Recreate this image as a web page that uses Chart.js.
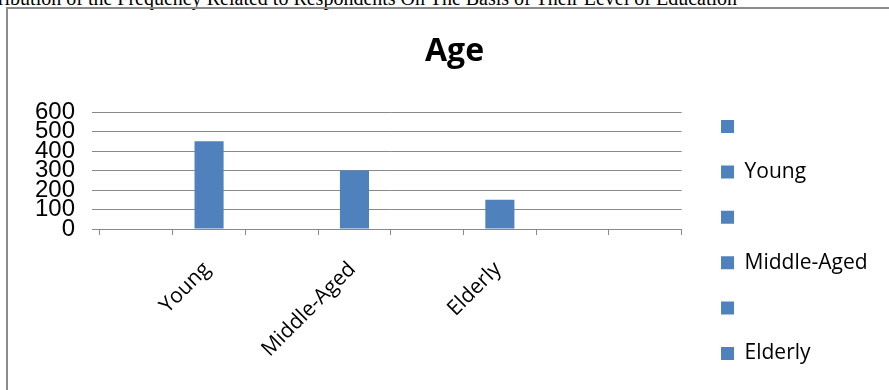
<!DOCTYPE html>
<html>
<head>
<meta charset="utf-8">
<script src="https://cdn.jsdelivr.net/npm/chart.js@4"></script>
<style>
  html, body { margin: 0; padding: 0; background: #fff; width: 889px; height: 390px; overflow: hidden; }
  #caption { position: absolute; right: 152px; top: -12.3px; font: 20px/20px "Liberation Serif", "Times New Roman", serif; white-space: nowrap; color: #000; }
  #frame { position: absolute; left: 6px; top: 7px; width: 1000px; height: 1000px; border-left: 2px solid #8c8c8c; border-top: 2px solid #8c8c8c; }
  #wrap { position: absolute; left: 0; top: 0; width: 889px; height: 390px; }
</style>
</head>
<body>
<div id="caption">Distribution of the Frequency Related to Respondents On The Basis of Their Level of Education</div>
<div id="frame"></div>
<div id="wrap"><canvas id="chart"></canvas></div>
<script>
// Category slots along the x axis (blank slots are empty rows in the source table)
const categories = ['', 'Young', '', 'Middle-Aged', '', 'Elderly', '', ''];
// Number of respondents in each slot
const respondents = [null, 450, null, 300, null, 150, null, null];
// Entries listed in the legend
const legendLabels = ['', 'Young', '', 'Middle-Aged', '', 'Elderly'];
// Value axis ticks
const yTicks = [0, 100, 200, 300, 400, 500, 600];

const barColor = '#4F81BD';
const gridColor = '#898989';

new Chart(document.getElementById('chart'), {
  type: 'bar',
  data: {
    labels: categories,
    datasets: [{
      label: 'Age',
      data: respondents,
      backgroundColor: barColor,
      barPercentage: 0.4,
      categoryPercentage: 1
    }]
  },
  options: {
    responsive: true,
    maintainAspectRatio: false,
    animation: false,
    layout: { padding: { left: 31.4, right: 11.4, top: 0, bottom: 1.6 } },
    plugins: {
      title: {
        display: true,
        text: 'Age',
        color: '#000',
        font: { family: 'Open Sans', size: 32, weight: 'bold' },
        padding: { top: 33, bottom: 40.6 }
      },
      legend: {
        position: 'right',
        align: 'end',
        labels: {
          boxWidth: 13,
          boxHeight: 13,
          padding: 24.4,
          color: '#000',
          font: { family: 'Open Sans', size: 21 },
          generateLabels: () => legendLabels.map((text, i) => ({
            text,
            fillStyle: barColor,
            strokeStyle: barColor,
            lineWidth: 0,
            hidden: false,
            index: i,
            datasetIndex: 0
          }))
        }
      },
      tooltip: { enabled: false }
    },
    scales: {
      x: {
        grid: { display: true, drawOnChartArea: false, offset: true, tickLength: 6, color: gridColor },
        border: { display: true, color: gridColor },
        ticks: {
          minRotation: 45,
          maxRotation: 45,
          autoSkip: false,
          padding: 22,
          labelOffset: -2,
          color: '#000',
          font: { family: 'Open Sans', size: 21 }
        },
        afterFit: s => { s.height = 159.4; }
      },
      y: {
        min: yTicks[0],
        max: yTicks[yTicks.length - 1],
        grid: { color: gridColor, tickLength: 8 },
        border: { display: false },
        ticks: {
          stepSize: yTicks[1] - yTicks[0],
          autoSkip: false,
          padding: 17,
          color: '#000',
          font: { family: 'Liberation Sans', size: 24 }
        },
        afterFit: s => { s.width = 68.6; }
      },
      // blank strip between the plot and the legend
      gap: {
        display: false,
        position: 'right',
        afterFit: s => { s.width = 15; }
      }
    }
  }
});
</script>
</body>
</html>
